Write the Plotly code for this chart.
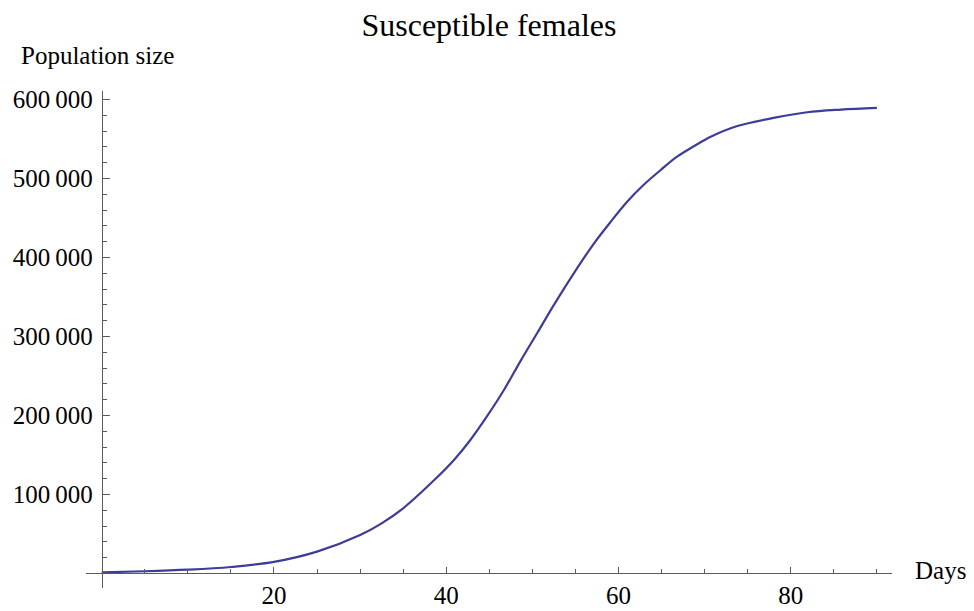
import plotly.graph_objects as go

# Data
days = [0, 5, 10, 15, 20, 25, 30, 32.5, 35, 38.7, 40.9, 42.8, 44.7, 46.7, 48.6, 50.6, 52.5,
        55.2, 57.1, 59.1, 61.0, 62.9, 64.9, 66.8, 68.8, 70.7, 73.8, 78.0, 81.9, 85.8, 90]
susceptible = [1400, 2700, 4700, 8100, 14500, 27500, 48600, 63400, 82400, 119100, 143600,
               168900, 198400, 232200, 268500, 305000, 340000, 386500, 417000, 445300,
               470600, 491800, 510800, 527600, 541100, 552900, 566500, 576700, 583900,
               587300, 589500]

x_tick_vals = [20, 40, 60, 80]
x_tick_text = ["20", "40", "60", "80"]
x_minor_vals = [5, 10, 15, 25, 30, 35, 45, 50, 55, 65, 70, 75, 85, 90]
y_tick_vals = [100000, 200000, 300000, 400000, 500000, 600000]
y_tick_text = ["100\u2009000", "200\u2009000", "300\u2009000", "400\u2009000", "500\u2009000", "600\u2009000"]
y_minor_vals = [v for v in range(20000, 600001, 20000) if v % 100000 != 0]

FONT = "Liberation Serif, Times New Roman, serif"
AXIS_COLOR = "#5a5a5a"
LINE_COLOR = "#3d3d99"

x_range = [-1.82, 91.75]
y_range = [-18500, 610800]

fig = go.Figure()
fig.add_trace(go.Scatter(
    x=days, y=susceptible, mode="lines",
    line=dict(color=LINE_COLOR, width=2.2, shape="spline", smoothing=1.0),
    showlegend=False, hoverinfo="skip",
))

fig.update_layout(
    width=974, height=611,
    margin=dict(l=86, r=82, t=91, b=23, autoexpand=False),
    paper_bgcolor="white", plot_bgcolor="white",
    font=dict(family=FONT, size=25, color="black"),
    title=dict(text="Susceptible females", x=0.502, xref="container", xanchor="center",
               y=1 - 25 / 611, yref="container", yanchor="middle",
               font=dict(family=FONT, size=32, color="black")),
    xaxis=dict(
        range=x_range, showgrid=False, zeroline=False, automargin=False,
        showline=True, linecolor=AXIS_COLOR, linewidth=1,
        anchor="free", position=(0 - y_range[0]) / (y_range[1] - y_range[0]),
        tickmode="array", tickvals=x_tick_vals, ticktext=x_tick_text,
        ticks="inside", ticklen=6, tickcolor=AXIS_COLOR, tickwidth=1,
        tickfont=dict(family=FONT, size=25, color="black"),
        minor=dict(tickmode="array", tickvals=x_minor_vals, ticks="inside",
                   ticklen=4, tickcolor=AXIS_COLOR, tickwidth=1, showgrid=False),
    ),
    yaxis=dict(
        range=y_range, showgrid=False, zeroline=False, automargin=False,
        showline=True, linecolor=AXIS_COLOR, linewidth=1,
        anchor="free", position=(0 - x_range[0]) / (x_range[1] - x_range[0]),
        tickmode="array", tickvals=y_tick_vals, ticktext=y_tick_text,
        ticks="inside", ticklen=7, tickcolor=AXIS_COLOR, tickwidth=1,
        ticklabelstandoff=4,
        tickfont=dict(family=FONT, size=25, color="black"),
        minor=dict(tickmode="array", tickvals=y_minor_vals, ticks="inside",
                   ticklen=4, tickcolor=AXIS_COLOR, tickwidth=1, showgrid=False),
    ),
    annotations=[
        dict(text="Population size", xref="paper", x=0, xanchor="left", xshift=-67,
             yref="paper", y=1, yanchor="middle", yshift=36, showarrow=False,
             font=dict(family=FONT, size=25, color="black")),
        dict(text="Days", xref="paper", x=1, xanchor="left", xshift=21,
             yref="y", y=0, yanchor="middle", yshift=3, showarrow=False,
             font=dict(family=FONT, size=25, color="black")),
    ],
)

fig.write_html("out.html", config={"displayModeBar": False},
               post_script="document.body.style.margin='0px';")
